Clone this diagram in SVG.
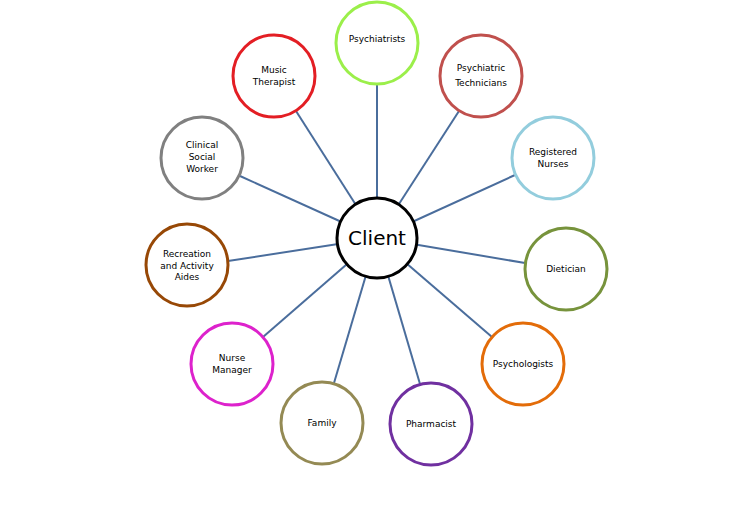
<svg xmlns="http://www.w3.org/2000/svg" width="754" height="517" viewBox="0 0 754 517">
<style>
.n{fill:#fff;stroke-width:3}
.t{font-family:"DejaVu Sans",sans-serif;font-size:9px;text-anchor:middle;fill:#000}
#edges line{stroke:#4a6d9c;stroke-width:2}
</style>
<rect width="754" height="517" fill="#fff"/>
<g id="edges">
<line x1="377" y1="238" x2="377" y2="84"/>
<line x1="377" y1="238" x2="296" y2="111"/>
<line x1="377" y1="238" x2="459" y2="111"/>
<line x1="377" y1="238" x2="515" y2="175"/>
<line x1="377" y1="238" x2="240" y2="176"/>
<line x1="377" y1="238" x2="228" y2="261"/>
<line x1="377" y1="238" x2="525" y2="263"/>
<line x1="377" y1="238" x2="492" y2="337"/>
<line x1="377" y1="238" x2="263" y2="337"/>
<line x1="377" y1="238" x2="334" y2="383"/>
<line x1="377" y1="238" x2="420" y2="384"/>
</g>
<g id="client"><circle cx="377" cy="238" r="40" class="n" stroke="#000"/><text x="377" y="245" font-family="DejaVu Sans,sans-serif" font-size="20" text-anchor="middle">Client</text></g>
<g id="psychiatrists"><circle cx="377" cy="43" r="41" class="n" stroke="#9bef4a"/><text class="t" x="377" y="42">Psychiatrists</text></g>
<g id="music"><circle cx="274" cy="76" r="41" class="n" stroke="#e31e24"/><text class="t" x="274" y="73">Music</text><text class="t" x="274" y="85">Therapist</text></g>
<g id="tech"><circle cx="481" cy="76" r="41" class="n" stroke="#c0504d"/><text class="t" x="481" y="71">Psychiatric</text><text class="t" x="481" y="86">Technicians</text></g>
<g id="nurses"><circle cx="553" cy="158" r="41" class="n" stroke="#93cddd"/><text class="t" x="553" y="155">Registered</text><text class="t" x="553" y="167">Nurses</text></g>
<g id="social"><circle cx="202" cy="158" r="41" class="n" stroke="#808080"/><text class="t" x="202" y="148">Clinical</text><text class="t" x="202" y="160">Social</text><text class="t" x="202" y="172">Worker</text></g>
<g id="recreation"><circle cx="187" cy="265" r="41" class="n" stroke="#974806"/><text class="t" x="187" y="257">Recreation</text><text class="t" x="187" y="269">and Activity</text><text class="t" x="187" y="280">Aides</text></g>
<g id="dietician"><circle cx="566" cy="269" r="41" class="n" stroke="#77933c"/><text class="t" x="566" y="272">Dietician</text></g>
<g id="psychologists"><circle cx="523" cy="364" r="41" class="n" stroke="#e36c09"/><text class="t" x="523" y="367">Psychologists</text></g>
<g id="nursemanager"><circle cx="232" cy="364" r="41" class="n" stroke="#dd22cc"/><text class="t" x="232" y="361">Nurse</text><text class="t" x="232" y="373">Manager</text></g>
<g id="family"><circle cx="322" cy="423" r="41" class="n" stroke="#948a54"/><text class="t" x="322" y="426">Family</text></g>
<g id="pharmacist"><circle cx="431" cy="424" r="41" class="n" stroke="#7030a0"/><text class="t" x="431" y="427">Pharmacist</text></g>
</svg>
